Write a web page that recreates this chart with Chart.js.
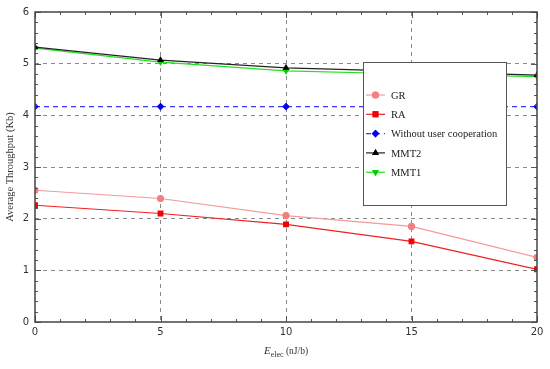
<!DOCTYPE html>
<html>
<head>
<meta charset="utf-8">
<script src="https://cdn.jsdelivr.net/npm/chart.js@4/dist/chart.umd.min.js"></script>
<style>
  html, body { margin: 0; padding: 0; background: #fff; }
  #wrap { width: 550px; height: 369px; position: relative; }
</style>
</head>
<body>
<div id="wrap"><canvas id="grafico"></canvas></div>
<script>
// valores
const eElec = [0, 5, 10, 15, 20]
const serieGR = [2.55, 2.39, 2.06, 1.85, 1.25]
const serieRA = [2.26, 2.10, 1.89, 1.56, 1.02]
const serieSinCoop = [4.17, 4.17, 4.17, 4.17, 4.17]
const serieMMT2 = [5.32, 5.07, 4.92, 4.85, 4.78]
const serieMMT1 = [5.30, 5.03, 4.86, 4.80, 4.75]
const nombres = ['GR', 'RA', 'Without user cooperation', 'MMT2', 'MMT1']
const xTicks = [0, 5, 10, 15, 20]
const yTicks = [0, 1, 2, 3, 4, 5, 6]

function puntos(valores) {
    return eElec.map((x, i) => ({ x: x, y: valores[i] }))
}

const estilos = [
    { color: '#f49a9a', punto: '#f47f7f', forma: 'circle', radio: 3, rot: 0, dash: [] },
    { color: '#f02020', punto: '#f00000', forma: 'rect', radio: 3.3, rot: 0, dash: [] },
    { color: '#3a3af0', punto: '#0000f0', forma: 'rectRot', radio: 3, rot: 0, dash: [5, 4] },
    { color: '#222222', punto: '#000000', forma: 'triangle', radio: 2.8, rot: 0, dash: [] },
    { color: '#22e022', punto: '#00d000', forma: 'triangle', radio: 2.8, rot: 180, dash: [] }
]
const series = [serieGR, serieRA, serieSinCoop, serieMMT2, serieMMT1]

const datasets = series.map((s, i) => ({
    label: nombres[i],
    data: puntos(s),
    borderColor: estilos[i].color,
    backgroundColor: estilos[i].punto,
    pointBackgroundColor: estilos[i].punto,
    pointBorderColor: estilos[i].punto,
    pointStyle: estilos[i].forma,
    pointRadius: estilos[i].radio,
    pointRotation: estilos[i].rot,
    borderWidth: 1.2,
    borderDash: estilos[i].dash,
    tension: 0
}))

// marco, marcas menores, leyenda y titulos
const marco = {
    id: 'marco',
    afterDatasetsDraw(chart) {
        const ctx = chart.ctx

        // leyenda
        const lx = 363, ly = 62, lw = 143, lh = 143
        ctx.save()
        ctx.fillStyle = '#fff'
        ctx.fillRect(lx, ly, lw, lh)
        ctx.strokeStyle = '#555'
        ctx.lineWidth = 1
        ctx.strokeRect(lx + 0.5, ly + 0.5, lw, lh)
        ctx.font = '10.5px "Liberation Serif", serif'
        ctx.textBaseline = 'middle'
        chart.data.datasets.forEach((d, i) => {
            const yy = ly + 33 + i * 19.3
            ctx.strokeStyle = d.borderColor
            ctx.lineWidth = 1.2
            ctx.setLineDash(d.borderDash)
            ctx.beginPath()
            ctx.moveTo(lx + 3, yy)
            ctx.lineTo(lx + 22, yy)
            ctx.stroke()
            ctx.setLineDash([])
            Chart.helpers.drawPoint(ctx, {
                pointStyle: d.pointStyle, radius: d.pointRadius, rotation: d.pointRotation, borderWidth: 1
            }, lx + 12.5, yy)
            ctx.fillStyle = d.pointBackgroundColor
            ctx.strokeStyle = d.pointBorderColor
            ctx.fill()
            ctx.stroke()
            ctx.fillStyle = '#222'
            ctx.fillText(d.label, lx + 28, yy + 1)
        })
        ctx.restore()
    },
    afterDraw(chart) {
        const ctx = chart.ctx
        const a = chart.chartArea
        const sx = chart.scales.x, sy = chart.scales.y
        ctx.save()
        ctx.strokeStyle = '#555'
        ctx.lineWidth = 1
        // marcas en x
        for (let v = 0; v <= 20; v += 1) {
            const px = Math.round(sx.getPixelForValue(v)) + 0.5
            const largo = v % 5 === 0 ? 6 : 3
            ctx.beginPath()
            ctx.moveTo(px, a.bottom); ctx.lineTo(px, a.bottom - largo)
            ctx.moveTo(px, a.top); ctx.lineTo(px, a.top + largo)
            ctx.stroke()
        }
        // marcas en y
        for (let k = 0; k <= 30; k++) {
            const v = k * 0.2
            const py = Math.round(sy.getPixelForValue(v)) + 0.5
            const largo = k % 5 === 0 ? 6 : 3
            ctx.beginPath()
            ctx.moveTo(a.left, py); ctx.lineTo(a.left + largo, py)
            ctx.moveTo(a.right, py); ctx.lineTo(a.right - largo, py)
            ctx.stroke()
        }
        ctx.strokeStyle = '#444'
        ctx.lineWidth = 1.5
        ctx.strokeRect(a.left, a.top, a.right - a.left, a.bottom - a.top)

        // titulo eje y
        ctx.fillStyle = '#333'
        ctx.font = '10.5px "Liberation Serif", serif'
        ctx.textAlign = 'center'
        ctx.textBaseline = 'middle'
        ctx.translate(10, (a.top + a.bottom) / 2)
        ctx.rotate(-Math.PI / 2)
        ctx.fillText('Average Throughput (Kb)', 0, 0)
        ctx.restore()

        // titulo eje x
        ctx.save()
        ctx.fillStyle = '#333'
        ctx.textBaseline = 'alphabetic'
        const partes = [
            { t: 'E', f: 'italic 11px "Liberation Serif", serif', dy: 0 },
            { t: 'elec', f: '8px "Liberation Serif", serif', dy: 3 },
            { t: ' (nJ/b)', f: '9.5px "Liberation Serif", serif', dy: 0 }
        ]
        let total = 0
        partes.forEach(p => { ctx.font = p.f; total += ctx.measureText(p.t).width })
        let x0 = (a.left + a.right) / 2 - total / 2
        partes.forEach(p => {
            ctx.font = p.f
            ctx.fillText(p.t, x0, 354 + p.dy)
            x0 += ctx.measureText(p.t).width
        })
        ctx.restore()
    }
}

new Chart(document.getElementById('grafico'), {
    type: 'line',
    data: { datasets: datasets },
    options: {
        responsive: true,
        maintainAspectRatio: false,
        animation: false,
        layout: { padding: { left: 0, top: 12, right: 13, bottom: 0 } },
        plugins: { legend: { display: false }, tooltip: { enabled: false } },
        scales: {
            x: {
                type: 'linear',
                min: 0, max: 20,
                afterBuildTicks: s => { s.ticks = xTicks.map(v => ({ value: v })) },
                afterFit: s => { s.height = 47 },
                border: { display: false, dash: [4, 4] },
                grid: {
                    drawTicks: false,
                    color: c => (c.tick.value === 0 || c.tick.value === 20) ? 'rgba(0,0,0,0)' : '#8a8a8a',
                    lineWidth: 1
                },
                ticks: { padding: 4, color: '#333', font: { family: 'DejaVu Sans', size: 10 }, maxRotation: 0 }
            },
            y: {
                min: 0, max: 6,
                afterBuildTicks: s => { s.ticks = yTicks.map(v => ({ value: v })) },
                afterFit: s => { s.width = 35 },
                border: { display: false, dash: [4, 4] },
                grid: {
                    drawTicks: false,
                    color: c => (c.tick.value === 0 || c.tick.value === 6) ? 'rgba(0,0,0,0)' : '#8a8a8a',
                    lineWidth: 1
                },
                ticks: { padding: 6, color: '#333', font: { family: 'DejaVu Sans', size: 10 } }
            }
        }
    },
    plugins: [marco]
})
</script>
</body>
</html>
